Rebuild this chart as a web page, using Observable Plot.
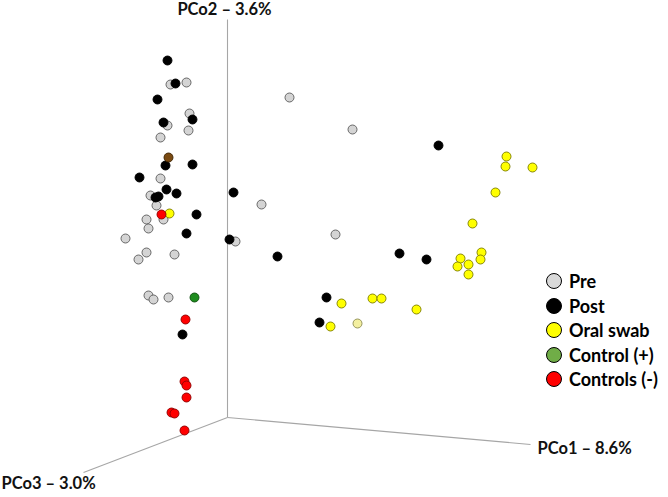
<!DOCTYPE html>
<html>
<head>
<meta charset="utf-8">
<script src="https://cdn.jsdelivr.net/npm/d3@7"></script>
<script src="https://cdn.jsdelivr.net/npm/@observablehq/plot@0.6"></script>
<style>
  html, body { margin: 0; padding: 0; background: #fff; }
  #wrap { position: relative; width: 668px; height: 497px; }
  #legend { position: absolute; left: 546px; top: 269px; font-family: Lato, "Open Sans", sans-serif; font-weight: 700; font-size: 18px; color: #000; }
  #legend .row { display: flex; align-items: center; height: 24.5px; }
  #legend .sw { width: 16px; height: 16px; border-radius: 50%; border: 1.4px solid #000; margin-right: 7px; box-sizing: border-box; }
</style>
</head>
<body>
<div id="wrap"><div id="chart"></div><div id="legend"></div></div>
<script>
// Projected PCoA coordinates (2D screen projection of PCo1/PCo2/PCo3, origin at axes intersection)
const groups = ["Pre", "Post", "Oral swab", "Control (+)", "Controls (-)"];
const pre = [[-57,333],[-41,335],[-38,304],[-60,292],[-39,287],[-67,280],[-67,239],[-77,222],[-71,212],[-64,198],[-81,198],[-79,189],[-102,179],[8,176],[-81,165],[-89,158],[-53,163],[-79,122],[-74,118],[-59,120],[62,320],[125,288],[34,213],[108,183]];
const post = [[-60,357],[-52,334],[-70,318],[-35,298],[-64,295],[-62,252],[-35,253],[-88,240],[-61,228],[-69,221],[-72,220],[-51,224],[6,225],[-31,203],[-41,184],[2,178],[-45,83],[211,272],[50,161],[172,164],[199,158],[99,120],[92,95]];
const oral = [[-58,204],[279,261],[278,251],[305,250],[268,225],[245,194],[254,165],[253,158],[233,159],[241,153],[230,151],[241,143],[114,114],[145,119],[154,119],[189,108],[103,91]];
const ctrlPos = [[-33,120]];
const ctrlNeg = [[-66,203],[-42,98],[-43,36],[-41,32],[-41,20],[-56,5],[-53,4],[-43,-13]];
const mixed = [[-59,260,"brown"],[130,94,"pale"]];
const axisLabels = ["PCo1 \u2013 8.6%", "PCo2 \u2013 3.6%", "PCo3 \u2013 3.0%"];

const fills = {"Pre":"#d4d4d4","Post":"#000000","Oral swab":"#ffff00","Control (+)":"#1e8c1e","Controls (-)":"#ff0000","brown":"#7a4a12","pale":"#f3efa0"};
const strokes = {"Pre":"#5a5a5a","Post":"#000000","Oral swab":"#7a7a00","Control (+)":"#0d4d0d","Controls (-)":"#8a0000","brown":"#3a2000","pale":"#8a8a50"};
const legendFills = {"Pre":"#d9d9d9","Post":"#000000","Oral swab":"#ffff00","Control (+)":"#70ad47","Controls (-)":"#ff0000"};

const pts = [];
const sets = [["Pre",pre],["Post",post],["Oral swab",oral],["Control (+)",ctrlPos],["Controls (-)",ctrlNeg]];
for (const [g, arr] of sets) for (const [x,y] of arr) pts.push({x, y, g});
for (const [x,y,g] of mixed) pts.push({x, y, g});

const axes = [
  {x1:0, y1:0, x2:303, y2:-27},
  {x1:0, y1:0, x2:0, y2:398},
  {x1:0, y1:0, x2:-144, y2:-55}
];
const font = {fontSize: 16.5, fontWeight: 700, fontFamily: "Lato, 'Open Sans', sans-serif", fill: "#111"};

const chart = Plot.plot({
  width: 668, height: 497,
  marginTop: 0, marginRight: 0, marginBottom: 0, marginLeft: 0,
  x: {domain: [-227, 441], axis: null},
  y: {domain: [-80, 417], axis: null},
  style: {background: "#fff"},
  marks: [
    Plot.link(axes, {x1:"x1", y1:"y1", x2:"x2", y2:"y2", stroke:"#a6a6a6", strokeWidth:1.1}),
    Plot.dot(pts, {x:"x", y:"y", r:4.5, fill: d => fills[d.g], stroke: d => strokes[d.g], strokeWidth: 0.9}),
    Plot.text([axisLabels[0]], {x: 310, y: -31, text: d => d, textAnchor: "start", ...font}),
    Plot.text([axisLabels[1]], {x: -3, y: 408, text: d => d, textAnchor: "middle", ...font}),
    Plot.text([axisLabels[2]], {x: -226, y: -66, text: d => d, textAnchor: "start", ...font})
  ]
});
document.getElementById("chart").appendChild(chart);

const leg = document.getElementById("legend");
for (const g of groups) {
  const row = document.createElement("div"); row.className = "row";
  const sw = document.createElement("div"); sw.className = "sw"; sw.style.background = legendFills[g];
  const tx = document.createElement("span"); tx.textContent = g;
  row.appendChild(sw); row.appendChild(tx); leg.appendChild(row);
}
</script>
</body>
</html>
